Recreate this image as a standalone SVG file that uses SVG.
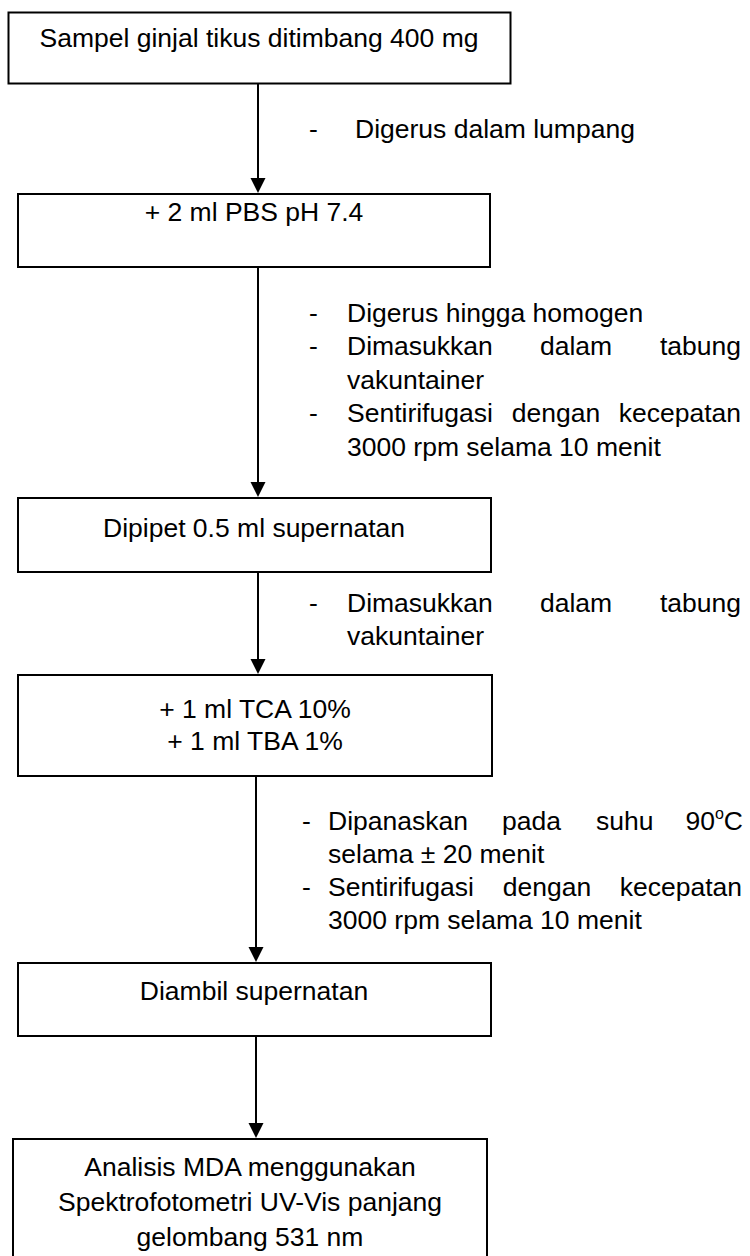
<svg xmlns="http://www.w3.org/2000/svg" width="750" height="1256" viewBox="0 0 750 1256">
<style>
text { font-family: "Liberation Sans", Arial, sans-serif; font-size: 26.5px; fill: #000; }
.c { text-anchor: middle; }
.e { text-anchor: end; }
.box { fill: #fff; stroke: #000; stroke-width: 2; }
.ln { stroke: #000; stroke-width: 2; fill: none; }
.ah { fill: #000; }
</style>
<rect width="750" height="1256" fill="#fff"/>
<g id="connectors">
  <line class="ln" x1="258" y1="84" x2="258" y2="180"/>
  <polygon class="ah" points="250.5,178 265.5,178 258,193"/>
  <line class="ln" x1="258" y1="268" x2="258" y2="484"/>
  <polygon class="ah" points="250.5,482 265.5,482 258,497"/>
  <line class="ln" x1="258" y1="573" x2="258" y2="661"/>
  <polygon class="ah" points="250.5,659 265.5,659 258,674"/>
  <line class="ln" x1="256" y1="777" x2="256" y2="949"/>
  <polygon class="ah" points="248.5,947 263.5,947 256,962"/>
  <line class="ln" x1="256" y1="1037" x2="256" y2="1125"/>
  <polygon class="ah" points="248.5,1123 263.5,1123 256,1138"/>
</g>
<g id="labels">
  <g id="label1">
    <text x="309" y="138">-</text>
    <text x="355" y="138">Digerus dalam lumpang</text>
  </g>
  <g id="label2">
    <text x="309" y="322">-</text>
    <text x="347" y="322">Digerus hingga homogen</text>
    <text x="309" y="355">-</text>
    <text x="347" y="355">Dimasukkan</text>
    <text class="c" x="576" y="355">dalam</text>
    <text class="e" x="741" y="355">tabung</text>
    <text x="347" y="389">vakuntainer</text>
    <text x="309" y="422">-</text>
    <text x="347" y="422">Sentirifugasi</text>
    <text class="c" x="556" y="422">dengan</text>
    <text class="e" x="741" y="422">kecepatan</text>
    <text x="347" y="456">3000 rpm selama 10 menit</text>
  </g>
  <g id="label3">
    <text x="309" y="612">-</text>
    <text x="347" y="612">Dimasukkan</text>
    <text class="c" x="576" y="612">dalam</text>
    <text class="e" x="741" y="612">tabung</text>
    <text x="347" y="645">vakuntainer</text>
  </g>
  <g id="label4">
    <text x="302" y="830">-</text>
    <text x="328" y="830">Dipanaskan</text>
    <text x="502" y="830">pada</text>
    <text x="596" y="830">suhu</text>
    <text class="e" x="743" y="830">90<tspan font-size="16" dy="-11">o</tspan><tspan dy="11">C</tspan></text>
    <text x="328" y="863">selama ± 20 menit</text>
    <text x="302" y="896">-</text>
    <text x="328" y="896">Sentirifugasi</text>
    <text class="c" x="547" y="896">dengan</text>
    <text class="e" x="742" y="896">kecepatan</text>
    <text x="328" y="929">3000 rpm selama 10 menit</text>
  </g>
</g>
<g id="node1">
  <rect class="box" x="8.5" y="12.5" width="502" height="71"/>
  <text class="c" x="259" y="47">Sampel ginjal tikus ditimbang 400 mg</text>
</g>
<g id="node2">
  <rect class="box" x="18" y="194" width="472" height="73"/>
  <text class="c" x="254" y="221">+ 2 ml PBS pH 7.4</text>
</g>
<g id="node3">
  <rect class="box" x="18" y="498" width="473" height="74"/>
  <text class="c" x="254" y="537">Dipipet 0.5 ml supernatan</text>
</g>
<g id="node4">
  <rect class="box" x="18" y="675" width="474" height="101"/>
  <text class="c" x="255" y="718">+ 1 ml TCA 10%</text>
  <text class="c" x="255" y="750">+ 1 ml TBA 1%</text>
</g>
<g id="node5">
  <rect class="box" x="18" y="963" width="473" height="73"/>
  <text class="c" x="254" y="1000">Diambil supernatan</text>
</g>
<g id="node6">
  <rect class="box" x="13" y="1139" width="474" height="130"/>
  <text class="c" x="250" y="1176">Analisis MDA menggunakan</text>
  <text class="c" x="250" y="1211">Spektrofotometri UV-Vis panjang</text>
  <text class="c" x="250" y="1246">gelombang 531 nm</text>
</g>
</svg>
